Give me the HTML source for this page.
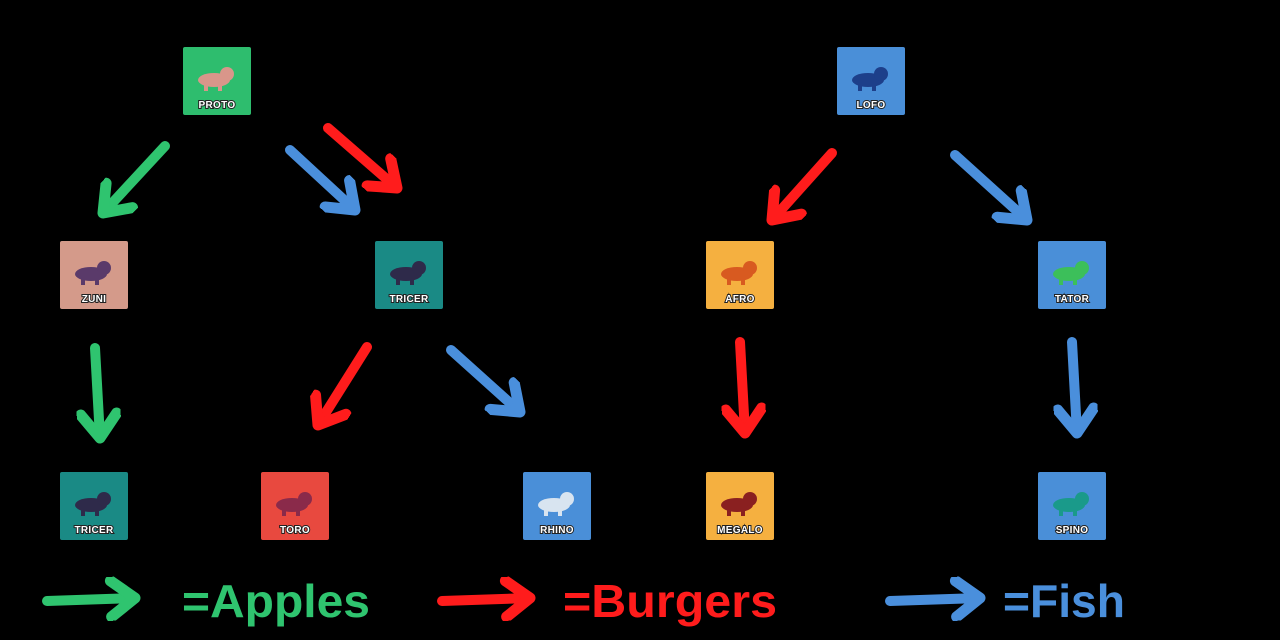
<!DOCTYPE html>
<html><head><meta charset="utf-8"><style>
html,body{margin:0;padding:0;background:#000;}
svg{display:block;}
.lbl{font-family:"Liberation Sans",sans-serif;font-weight:bold;font-size:10px;fill:#fff;stroke:#222;stroke-width:2;paint-order:stroke;text-anchor:middle;letter-spacing:0.3px}
.leg{font-family:"Liberation Sans",sans-serif;font-weight:bold;font-size:46px}
</style></head><body>
<svg width="1280" height="640" viewBox="0 0 1280 640" xmlns="http://www.w3.org/2000/svg">
<defs>
<marker id="hg" markerUnits="userSpaceOnUse" markerWidth="44" markerHeight="44" refX="32" refY="22" orient="auto"><path d="M8,4 L32,22 L8,40" fill="none" stroke="#2fc46f" stroke-width="11" stroke-linecap="round" stroke-linejoin="round"/></marker>
<marker id="hr" markerUnits="userSpaceOnUse" markerWidth="44" markerHeight="44" refX="32" refY="22" orient="auto"><path d="M8,4 L32,22 L8,40" fill="none" stroke="#ff1c1c" stroke-width="11" stroke-linecap="round" stroke-linejoin="round"/></marker>
<marker id="hb" markerUnits="userSpaceOnUse" markerWidth="44" markerHeight="44" refX="32" refY="22" orient="auto"><path d="M8,4 L32,22 L8,40" fill="none" stroke="#4a8fdc" stroke-width="11" stroke-linecap="round" stroke-linejoin="round"/></marker>
<g id="dino"><ellipse cx="0" cy="0" rx="16" ry="7"/><circle cx="13" cy="-6" r="7"/><rect x="-10" y="4" width="4" height="7"/><rect x="4" y="4" width="4" height="7"/></g>
</defs>
<g stroke-width="10" stroke-linecap="round" fill="none">
<line x1="165" y1="146" x2="103" y2="213" stroke="#2fc46f" marker-end="url(#hg)"/>
<line x1="290" y1="150" x2="355" y2="210" stroke="#4a8fdc" marker-end="url(#hb)"/>
<line x1="328" y1="128" x2="397" y2="188" stroke="#ff1c1c" marker-end="url(#hr)"/>
<line x1="95" y1="348" x2="100" y2="438" stroke="#2fc46f" marker-end="url(#hg)"/>
<line x1="367" y1="347" x2="318" y2="425" stroke="#ff1c1c" marker-end="url(#hr)"/>
<line x1="451" y1="350" x2="520" y2="412" stroke="#4a8fdc" marker-end="url(#hb)"/>
<line x1="832" y1="153" x2="772" y2="220" stroke="#ff1c1c" marker-end="url(#hr)"/>
<line x1="955" y1="155" x2="1027" y2="220" stroke="#4a8fdc" marker-end="url(#hb)"/>
<line x1="740" y1="342" x2="745" y2="433" stroke="#ff1c1c" marker-end="url(#hr)"/>
<line x1="1072" y1="342" x2="1077" y2="433" stroke="#4a8fdc" marker-end="url(#hb)"/>
<line x1="47" y1="601" x2="135" y2="598" stroke="#2fc46f" marker-end="url(#hg)"/>
<line x1="442" y1="601" x2="530" y2="598" stroke="#ff1c1c" marker-end="url(#hr)"/>
<line x1="890" y1="601" x2="980" y2="598" stroke="#4a8fdc" marker-end="url(#hb)"/>
</g>
<g>
<rect x="183" y="47" width="68" height="68" rx="2" fill="#2ebd6e"/><use href="#dino" x="214" y="80" fill="#d9968a"/><text class="lbl" x="217" y="108">PROTO</text>
<rect x="837" y="47" width="68" height="68" rx="2" fill="#4a8fd8"/><use href="#dino" x="868" y="80" fill="#1d3f8a"/><text class="lbl" x="871" y="108">LOFO</text>
<rect x="60" y="241" width="68" height="68" rx="2" fill="#d49a8a"/><use href="#dino" x="91" y="274" fill="#5a3a6a"/><text class="lbl" x="94" y="302">ZUNI</text>
<rect x="375" y="241" width="68" height="68" rx="2" fill="#1a8a85"/><use href="#dino" x="406" y="274" fill="#2e2a4a"/><text class="lbl" x="409" y="302">TRICER</text>
<rect x="706" y="241" width="68" height="68" rx="2" fill="#f5b040"/><use href="#dino" x="737" y="274" fill="#d85a20"/><text class="lbl" x="740" y="302">AFRO</text>
<rect x="1038" y="241" width="68" height="68" rx="2" fill="#4a8fd8"/><use href="#dino" x="1069" y="274" fill="#3cbf5a"/><text class="lbl" x="1072" y="302">TATOR</text>
<rect x="60" y="472" width="68" height="68" rx="2" fill="#1a8a85"/><use href="#dino" x="91" y="505" fill="#2e2a4a"/><text class="lbl" x="94" y="533">TRICER</text>
<rect x="261" y="472" width="68" height="68" rx="2" fill="#e8493f"/><use href="#dino" x="292" y="505" fill="#8a2a4a"/><text class="lbl" x="295" y="533">TORO</text>
<rect x="523" y="472" width="68" height="68" rx="2" fill="#4a8fd8"/><use href="#dino" x="554" y="505" fill="#d8e4f0"/><text class="lbl" x="557" y="533">RHINO</text>
<rect x="706" y="472" width="68" height="68" rx="2" fill="#f5b040"/><use href="#dino" x="737" y="505" fill="#8a2020"/><text class="lbl" x="740" y="533">MEGALO</text>
<rect x="1038" y="472" width="68" height="68" rx="2" fill="#4a8fd8"/><use href="#dino" x="1069" y="505" fill="#1a9a8a"/><text class="lbl" x="1072" y="533">SPINO</text>
</g>
<text class="leg" x="182" y="617" fill="#2fc46f" textLength="188" lengthAdjust="spacingAndGlyphs">=Apples</text>
<text class="leg" x="563" y="617" fill="#ff1c1c" textLength="214" lengthAdjust="spacingAndGlyphs">=Burgers</text>
<text class="leg" x="1003" y="617" fill="#4a8fdc" textLength="122" lengthAdjust="spacingAndGlyphs">=Fish</text>
</svg>
</body></html>
